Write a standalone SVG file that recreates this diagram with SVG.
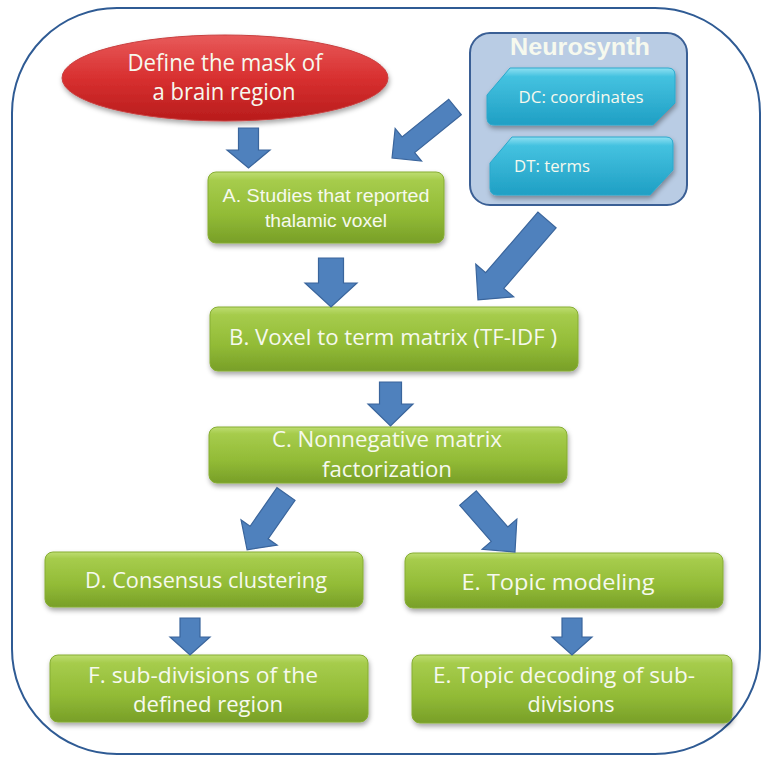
<svg xmlns="http://www.w3.org/2000/svg" width="763" height="758" viewBox="0 0 763 758">
<defs>
<linearGradient id="gGreen" x1="0" y1="0" x2="0" y2="1">
<stop offset="0" stop-color="#bedd72"/>
<stop offset="0.12" stop-color="#a6cc4c"/>
<stop offset="0.6" stop-color="#92bb36"/>
<stop offset="1" stop-color="#789f28"/>
</linearGradient>
<linearGradient id="gRed" x1="0" y1="0" x2="0" y2="1">
<stop offset="0" stop-color="#e85a5a"/>
<stop offset="0.5" stop-color="#d83030"/>
<stop offset="1" stop-color="#b81c1c"/>
</linearGradient>
<linearGradient id="gCyan" x1="0" y1="0" x2="0" y2="1">
<stop offset="0" stop-color="#8fe0f2"/>
<stop offset="0.15" stop-color="#44c2e0"/>
<stop offset="1" stop-color="#1f9fc4"/>
</linearGradient>
<filter id="shadow" x="-10%" y="-20%" width="120%" height="150%">
<feDropShadow dx="1" dy="3" stdDeviation="2.5" flood-color="#000" flood-opacity="0.35"/>
</filter>
</defs>
<style>
.box{fill:url(#gGreen);stroke:#86ad33;stroke-width:1;filter:url(#shadow)}
.cal{font-family:"Open Sans","Noto Sans",sans-serif;fill:#f6f9ee;text-anchor:middle}
.ari{font-family:"Liberation Sans",Arial,sans-serif;fill:#f6f9ee;text-anchor:middle}
.arrow{fill:#4f81bd;stroke:#3a659c;stroke-width:1.2;stroke-linejoin:miter}
.cyan{fill:url(#gCyan);stroke:#2aa8cc;stroke-width:1;filter:url(#shadow)}
</style>

<rect x="12" y="8" width="748" height="746" rx="105" ry="105" fill="#fff" stroke="#2f5b94" stroke-width="2"/>

<g id="mask">
<ellipse cx="225" cy="78" rx="163" ry="43" fill="url(#gRed)" stroke="#c84040" stroke-width="1" filter="url(#shadow)"/>
<text class="cal" x="225" y="71" font-size="23" fill="#fbeeee" textLength="195" lengthAdjust="spacingAndGlyphs">Define the mask of</text>
<text class="cal" x="224" y="100" font-size="23" fill="#fbeeee" textLength="143" lengthAdjust="spacingAndGlyphs">a brain region</text>
</g>

<g id="neurosynth">
<rect x="470" y="33" width="217" height="172" rx="20" ry="20" fill="#b9cce4" stroke="#3a5f95" stroke-width="2"/>
<text class="ari" x="580" y="55" font-size="23" font-weight="bold" fill="#f4f7fb" textLength="140" lengthAdjust="spacingAndGlyphs">Neurosynth</text>
<g id="dc">
<path class="cyan" d="M487,95 L510,68 L668,68 Q675,68 675,75 L675,103 L653,125 L494,125 Q487,125 487,118 Z"/>
<text class="cal" x="581" y="103" font-size="17" textLength="125" lengthAdjust="spacingAndGlyphs">DC: coordinates</text>
</g>
<g id="dt">
<path class="cyan" d="M490,163 L512,137 L666,137 Q673,137 673,144 L673,170 L650,195 L497,195 Q490,195 490,188 Z"/>
<text class="cal" x="514" y="172" font-size="17" style="text-anchor:start" textLength="76" lengthAdjust="spacingAndGlyphs">DT: terms</text>
</g>
</g>

<g id="nodeA">
<rect class="box" x="208" y="172" width="236" height="71" rx="8"/>
<text class="ari" x="326" y="202" font-size="18" textLength="207" lengthAdjust="spacingAndGlyphs">A. Studies that reported</text>
<text class="ari" x="326" y="227" font-size="18" textLength="122" lengthAdjust="spacingAndGlyphs">thalamic voxel</text>
</g>

<g id="nodeB">
<rect class="box" x="210" y="307" width="368" height="64" rx="8"/>
<text class="cal" x="393" y="345" font-size="22" textLength="328" lengthAdjust="spacingAndGlyphs">B. Voxel to term matrix (TF-IDF )</text>
</g>

<g id="nodeC">
<rect class="box" x="209" y="427" width="358" height="56" rx="8"/>
<text class="cal" x="387" y="447" font-size="22" textLength="230" lengthAdjust="spacingAndGlyphs">C. Nonnegative matrix</text>
<text class="cal" x="387" y="477" font-size="22" textLength="130" lengthAdjust="spacingAndGlyphs">factorization</text>
</g>

<g id="nodeD">
<rect class="box" x="45" y="552" width="318" height="55" rx="8"/>
<text class="cal" x="206" y="588" font-size="21.5" textLength="242" lengthAdjust="spacingAndGlyphs">D. Consensus clustering</text>
</g>

<g id="nodeE">
<rect class="box" x="405" y="553" width="318" height="55" rx="8"/>
<text class="cal" x="558" y="590" font-size="21.5" textLength="193" lengthAdjust="spacingAndGlyphs">E. Topic modeling</text>
</g>

<g id="nodeF">
<rect class="box" x="50" y="655" width="318" height="67" rx="8"/>
<text class="cal" x="203" y="683" font-size="21.5" textLength="230" lengthAdjust="spacingAndGlyphs">F. sub-divisions of the</text>
<text class="cal" x="208" y="712" font-size="21.5" textLength="150" lengthAdjust="spacingAndGlyphs">defined region</text>
</g>

<g id="nodeE2">
<rect class="box" x="412" y="655" width="320" height="68" rx="8"/>
<text class="cal" x="564" y="683" font-size="21.5" textLength="262" lengthAdjust="spacingAndGlyphs">E. Topic decoding of sub-</text>
<text class="cal" x="571" y="712" font-size="21.5" textLength="87" lengthAdjust="spacingAndGlyphs">divisions</text>
</g>

<g id="connectors">
<path class="arrow" transform="translate(248.5,128) rotate(90)" d="M0,-10 L22,-10 L22,-21.5 L40,0 L22,21.5 L22,10 L0,10 Z"/>
<path class="arrow" transform="translate(331,258) rotate(90)" d="M0,-12.5 L25,-12.5 L25,-26 L49,0 L25,26 L25,12.5 L0,12.5 Z"/>
<path class="arrow" transform="translate(390.5,382) rotate(90)" d="M0,-11 L22,-11 L22,-22.5 L44,0 L22,22.5 L22,11 L0,11 Z"/>
<path class="arrow" transform="translate(190,618) rotate(90)" d="M0,-10 L19,-10 L19,-20 L37,0 L19,20 L19,10 L0,10 Z"/>
<path class="arrow" transform="translate(572,618) rotate(90)" d="M0,-10 L19,-10 L19,-20 L37,0 L19,20 L19,10 L0,10 Z"/>
<path class="arrow" transform="translate(455,107) rotate(141)" d="M0,-10 L60,-10 L60,-21 L81,0 L60,21 L60,10 L0,10 Z"/>
<path class="arrow" transform="translate(547,220) rotate(130.8)" d="M0,-12 L80,-12 L80,-25 L105.6,0 L80,25 L80,12 L0,12 Z"/>
<path class="arrow" transform="translate(286,494) rotate(124.9)" d="M0,-11 L47,-11 L47,-22 L68,0 L47,22 L47,11 L0,11 Z"/>
<path class="arrow" transform="translate(468,498) rotate(49)" d="M0,-11 L48,-11 L48,-23 L71.6,0 L48,23 L48,11 L0,11 Z"/>
</g>
</svg>
